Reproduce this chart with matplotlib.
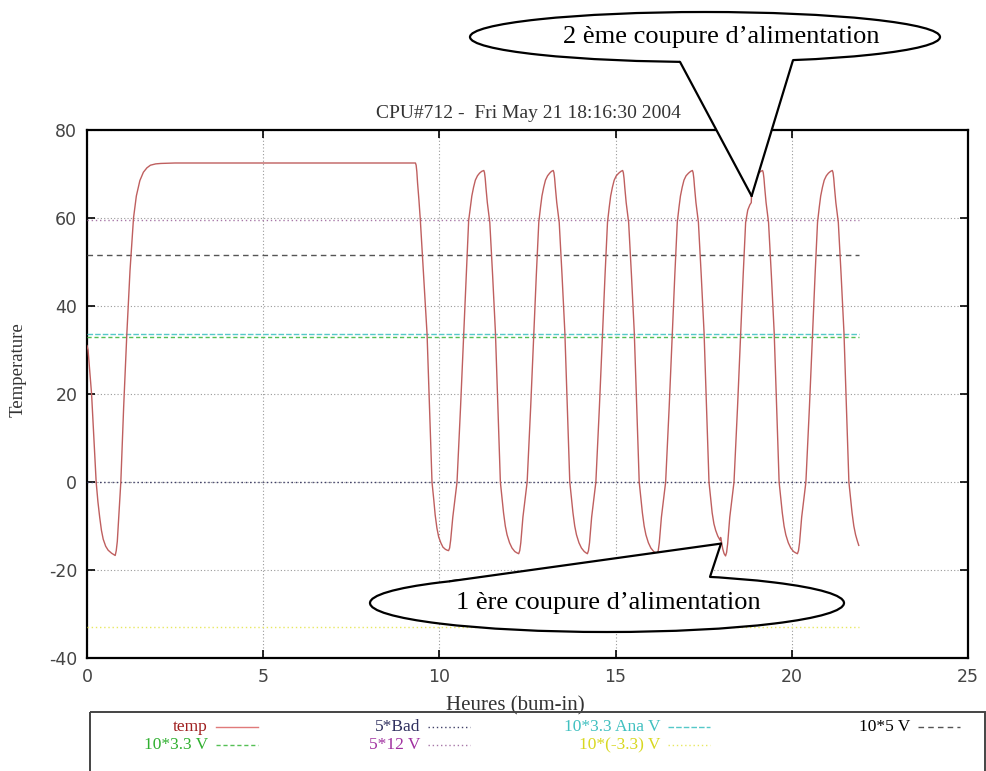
import matplotlib
matplotlib.use("Agg")
import matplotlib.pyplot as plt
from matplotlib.patches import Ellipse, Polygon, Rectangle

plt.rcParams["axes.unicode_minus"] = False

# temperature log: (hours of burn-in, deg C)
temp_log = [
    (0.0, 31), (0.03, 30), (0.07, 26), (0.13, 20), (0.2, 9), (0.26, 0), (0.31, -4.5), (0.36, -8),
    (0.41, -11), (0.46, -13), (0.53, -14.6), (0.6, -15.5), (0.7, -16.2), (0.8, -16.7),
    (0.83, -15.6), (0.86, -13.5), (0.9, -8), (0.96, 0), (1.04, 17), (1.13, 33.6), (1.22, 48),
    (1.32, 60), (1.4, 65), (1.5, 68.5), (1.6, 70.4), (1.7, 71.4), (1.8, 72), (1.95, 72.3),
    (2.1, 72.4), (2.5, 72.5), (9.32, 72.5),
    # power cycling starts
    (9.34, 72), (9.36, 70.5), (9.38, 68), (9.42, 64), (9.46, 59.4), (9.56, 46), (9.65, 33.6),
    (9.72, 17), (9.79, 0), (9.84, -4), (9.88, -7.5), (9.93, -10.5), (9.98, -12.5), (10.04, -13.8),
    (10.1, -14.8), (10.17, -15.3), (10.22, -15.5), (10.26, -15.6),
    (10.29, -15), (10.32, -13.2), (10.38, -8), (10.5, 0), (10.6, 17), (10.69, 33.6), (10.76, 47),
    (10.83, 59.4), (10.88, 62.5), (10.92, 65), (10.97, 67), (11.02, 68.6), (11.08, 69.6),
    (11.14, 70.2), (11.2, 70.6), (11.26, 70.8),
    (11.28, 70.3), (11.3, 69), (11.32, 67), (11.36, 63.5), (11.43, 59), (11.51, 47), (11.59, 34),
    (11.66, 17), (11.73, 0), (11.78, -4), (11.82, -7), (11.87, -10), (11.92, -12), (11.99, -13.8),
    (12.06, -15), (12.14, -15.8), (12.2, -16.1), (12.25, -16.3),
    (12.28, -15.6), (12.31, -13.8), (12.37, -8), (12.49, 0), (12.59, 17), (12.68, 34), (12.75, 47),
    (12.82, 59), (12.87, 62.5), (12.91, 65), (12.96, 67), (13.01, 68.6), (13.07, 69.6),
    (13.13, 70.2), (13.18, 70.6), (13.23, 70.8),
    (13.25, 70.3), (13.27, 69), (13.29, 67), (13.33, 63.5), (13.4, 59), (13.48, 47), (13.56, 34),
    (13.63, 17), (13.7, 0), (13.75, -4), (13.79, -7), (13.84, -10), (13.89, -12), (13.96, -13.8),
    (14.03, -15), (14.11, -15.8), (14.16, -16.1), (14.2, -16.3),
    (14.23, -15.6), (14.26, -13.8), (14.32, -8), (14.44, 0), (14.54, 17), (14.63, 34), (14.7, 47),
    (14.77, 59), (14.82, 62.5), (14.86, 65), (14.91, 67), (14.96, 68.6), (15.02, 69.6),
    (15.09, 70.2), (15.15, 70.6), (15.2, 70.8),
    (15.22, 70.3), (15.24, 69), (15.26, 67), (15.3, 63.5), (15.37, 59), (15.45, 47), (15.53, 34),
    (15.6, 17), (15.67, 0), (15.72, -4), (15.76, -7), (15.81, -10), (15.86, -12), (15.93, -13.8),
    (16.0, -15), (16.08, -15.8), (16.14, -16.1), (16.18, -16.3),
    (16.21, -15.6), (16.24, -13.8), (16.3, -8), (16.42, 0), (16.52, 17), (16.61, 34), (16.68, 47),
    (16.75, 59), (16.8, 62.5), (16.84, 65), (16.89, 67), (16.94, 68.6), (17.0, 69.6),
    (17.07, 70.2), (17.13, 70.6), (17.18, 70.8),
    # first power cut
    (17.2, 70.3), (17.22, 69), (17.24, 67), (17.28, 63.5), (17.35, 59), (17.43, 47), (17.51, 34),
    (17.58, 17), (17.65, 0), (17.7, -4), (17.74, -7), (17.79, -9.5), (17.84, -11), (17.9, -12.3),
    (17.95, -13), (17.97, -13.3), (17.98, -12.6), (18.01, -13.8), (18.04, -15.2), (18.08, -16.3),
    (18.12, -16.8),
    # second power cut
    (18.15, -16), (18.18, -14), (18.24, -8), (18.36, 0), (18.46, 17), (18.55, 34), (18.62, 47),
    (18.69, 59), (18.75, 61.8), (18.81, 63), (18.85, 63.5), (18.86, 65.8), (18.9, 67.3),
    (18.95, 68.5), (19.0, 69.5), (19.06, 70.2), (19.12, 70.6), (19.17, 70.8),
    (19.19, 70.3), (19.21, 69), (19.23, 67), (19.27, 63.5), (19.34, 59), (19.42, 47), (19.5, 34),
    (19.57, 17), (19.64, 0), (19.69, -4), (19.73, -7), (19.78, -10), (19.83, -12), (19.9, -13.8),
    (19.97, -15), (20.05, -15.8), (20.11, -16.1), (20.16, -16.3),
    (20.19, -15.6), (20.22, -13.8), (20.28, -8), (20.4, 0), (20.5, 17), (20.59, 34), (20.66, 47),
    (20.73, 59), (20.78, 62.5), (20.82, 65), (20.87, 67), (20.92, 68.6), (20.98, 69.6),
    (21.04, 70.2), (21.1, 70.6), (21.15, 70.8),
    (21.17, 70.3), (21.19, 69), (21.21, 67), (21.25, 63.5), (21.32, 59), (21.4, 47), (21.48, 34),
    (21.55, 17), (21.62, 0), (21.67, -4), (21.71, -7), (21.76, -10), (21.81, -12), (21.86, -13.4),
    (21.9, -14.4),
]
hours = [h for h, t in temp_log]
temp = [t for h, t in temp_log]

# constant voltage traces (scaled)
volt_labels = ["5*Bad", "10*3.3 Ana V", "10*5 V", "10*3.3 V", "5*12 V", "10*(-3.3) V"]
volt_values = [0.0, 33.6, 51.5, 33.0, 59.5, -33.0]
volt_colors = ["#404068", "#55c8c8", "#555555", "#55c055", "#a878a8", "#e8e860"]
volt_text_colors = ["#303060", "#40c0c0", "#000000", "#30b030", "#a030a0", "#d8d820"]
volt_styles = [(0, (1, 2)), (0, (4, 1.5)), (0, (4, 3)), (0, (3, 2)), (0, (1, 2)), (0, (1, 2))]

# where the two power cuts are
cut_points = [(17.99, -14.0), (18.86, 65.0)]
cut_texts = ["1 ère coupure d\u2019alimentation", "2 ème coupure d\u2019alimentation"]

W, H = 987, 771
fig = plt.figure(figsize=(W / 100, H / 100), dpi=100)
ax = fig.add_axes([87 / W, (H - 658) / H, 881 / W, 528 / H])

temp_line, = ax.plot(hours, temp, color="#bf5f5f", lw=1.0, zorder=5)
for val, col, ls in zip(volt_values, volt_colors, volt_styles):
    ax.plot([hours[0], hours[-1]], [val, val], color=col, ls=ls, lw=1.0, zorder=3)

ax.set_xlim(0, 25)
ax.set_ylim(-40, 80)
ax.set_xticks(range(0, 26, 5))
ax.set_yticks(range(-40, 81, 20))
ax.grid(True, color="#9a9a9a", ls=(0, (1, 2)), lw=0.8)
ax.tick_params(direction="in", top=True, right=True, length=6, width=1.2,
               labelsize=12.5, labelcolor="#444444", pad=7)
for sp in ax.spines.values():
    sp.set_linewidth(1.6)

# overlay in pixel coords for labels, callouts and legend
ov = fig.add_axes([0, 0, 1, 1], zorder=10)
ov.set_xlim(0, W)
ov.set_ylim(H, 0)
ov.axis("off")

serif = "Liberation Serif"
ov.text(528, 113, "CPU#712 -  Fri May 21 18:16:30 2004", ha="center", va="center",
        family=serif, fontsize=14, color="#333333")
ov.text(18, 370, "Temperature", rotation=90, ha="center", va="center",
        family=serif, fontsize=13.5, color="#333333")
ov.text(515, 706, "Heures (bum-in)", ha="center", va="center",
        family=serif, fontsize=15, color="#333333")


def to_px(x, y):
    p = ax.transData.transform((x, y))
    return ov.transData.inverted().transform(p)


def callout(cx, cy, a, b, base_x, tip, text, tx):
    ov.add_patch(Ellipse((cx, cy), 2 * a, 2 * b, facecolor="white", edgecolor="black", lw=1.6, zorder=11))
    side = 1 if tip[1] > cy else -1
    edge, inner = [], []
    for bx in base_x:
        f = max(0.0, 1 - ((bx - cx) / a) ** 2) ** 0.5
        edge.append((bx, cy + side * b * f))
        inner.append((bx, cy + side * b * f * 0.82))
    # white wedge hides the ellipse outline under the tail
    ov.add_patch(Polygon([inner[0], edge[0], tip, edge[1], inner[1]], closed=True,
                         facecolor="white", edgecolor="none", zorder=12))
    for p in edge:
        ov.plot([p[0], tip[0]], [p[1], tip[1]], color="black", lw=1.6, zorder=13,
                solid_capstyle="round")
    ov.text(tx, cy, text, ha="center", va="center", family=serif, fontsize=19, zorder=14)


tip1 = to_px(*cut_points[0])
tip2 = to_px(*cut_points[1])
callout(607, 603, 237, 29, [450, 710], tip1, cut_texts[0], 608)
callout(705, 37, 235, 25, [680, 793], tip2, cut_texts[1], 721)

# legend box in gnuplot style (text right aligned, sample after)
ov.add_patch(Rectangle((90, 712), 895, 100, facecolor="none", edgecolor="#444444", lw=1.4, zorder=11))
entries = [("temp", "#e07a7a", "-", "#a02020")] + \
    list(zip(volt_labels, volt_colors, volt_styles, volt_text_colors))
col_x = [208, 420, 660, 910]
slot_for = {"temp": (0, 0), "5*Bad": (1, 0), "10*3.3 Ana V": (2, 0), "10*5 V": (3, 0),
            "10*3.3 V": (0, 1), "5*12 V": (1, 1), "10*(-3.3) V": (2, 1)}
for lab, col, ls, tc in entries:
    c, r = slot_for[lab]
    y = 727 + 18 * r
    x = col_x[c]
    ov.text(x, y, lab, ha="right", va="center", family=serif, fontsize=12.5, color=tc, zorder=12)
    ov.plot([x + 8, x + 50], [y, y], color=col, ls=ls, lw=1.0, zorder=12)

fig.savefig("out.png", dpi=100)
